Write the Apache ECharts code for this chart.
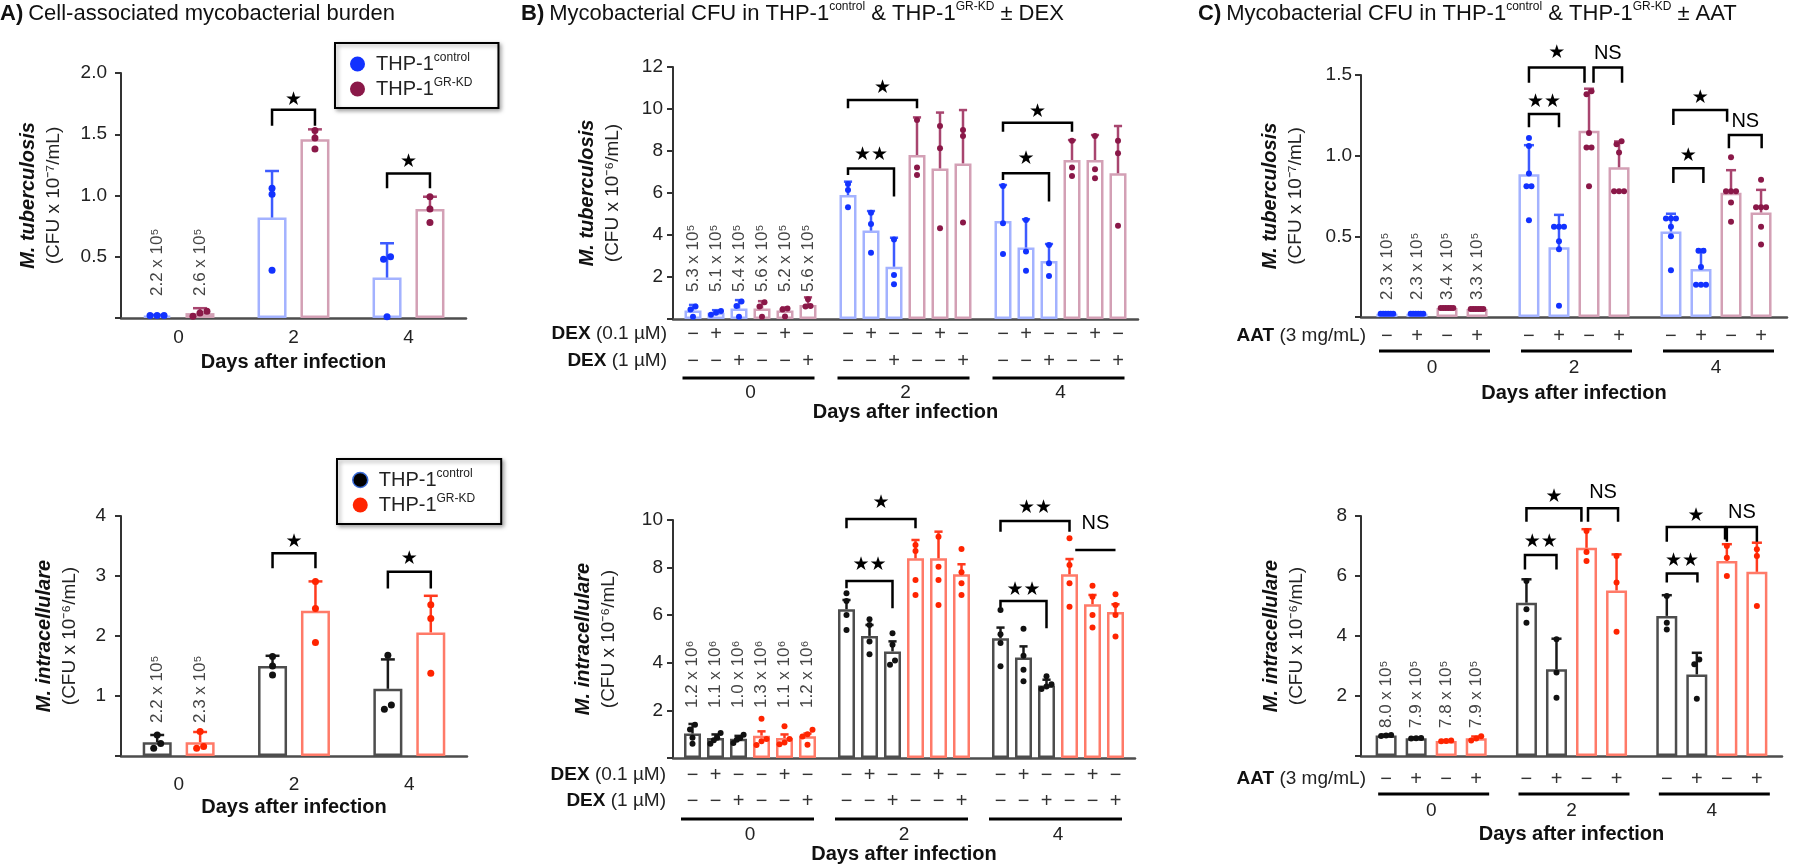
<!DOCTYPE html>
<html><head><meta charset="utf-8">
<script src="https://cdn.jsdelivr.net/npm/echarts@6/dist/echarts.min.js"></script>
<style>html,body{margin:0;padding:0;background:#fff}#c{width:1800px;height:868px}</style>
</head><body><div id="c"></div>
<script>
const FONT = "'Liberation Sans', Arial, Helvetica, sans-serif";
const days = ['0', '2', '4'];

// ---------- A top: M. tuberculosis (control, GR-KD) ----------
const aTbMean = [[0.02, 0.82, 0.33], [0.04, 1.46, 0.89]];
const aTbErr  = [[0.005, 0.38, 0.28], [0.04, 0.08, 0.10]];
const aTbPts  = [
  [[0.02, 0.02, 0.02], [1.06, 1.01, 0.39], [0.50, 0.48, 0.01]],
  [[0.04, 0.015, 0.055], [1.53, 1.47, 1.38], [0.99, 0.89, 0.78]]
];
const aTbNotes = ['2.2 x 10⁵', '2.6 x 10⁵'];
// [day, fromBar, toBar, yTop, yLeftEnd, yRightEnd, textY, text]
const aTbSig = [[1, 0, 1, 1.70, 1.57, 1.57, 1.78, '★'], [2, 0, 1, 1.18, 1.06, 1.06, 1.27, '★']];

// ---------- A bottom: M. intracellulare ----------
const aIntMean = [[0.23, 1.50, 1.12], [0.23, 2.42, 2.06]];
const aIntErr  = [[0.12, 0.17, 0.49], [0.17, 0.49, 0.61]];
const aIntPts  = [
  [[0.13, 0.21, 0.35], [1.35, 1.50, 1.66], [1.68, 0.78, 0.85]],
  [[0.13, 0.16, 0.41], [2.91, 2.46, 1.89], [2.52, 2.29, 1.38]]
];
const aIntNotes = ['2.2 x 10⁵', '2.3 x 10⁵'];
const aIntSig = [[1, 0, 1, 3.38, 3.13, 3.13, 3.57, '★'], [2, 0, 1, 3.07, 2.79, 2.79, 3.29, '★']];

// ---------- B top: M. tuberculosis ± DEX (ctrl -, 0.1, 1 ; GR -, 0.1, 1) ----------
const bTbMean = [
  [0.40, 5.90, 4.67], [0.30, 4.21, 3.40], [0.50, 2.49, 2.76],
  [0.50, 7.81, 7.57], [0.40, 7.17, 7.57], [0.67, 7.41, 6.94]
];
const bTbErr = [
  [0.27, 0.64, 1.71], [0.12, 0.93, 1.35], [0.40, 1.38, 0.81],
  [0.35, 1.79, 0.95], [0.15, 2.66, 1.19], [0.36, 2.54, 2.25]
];
const bTbPts = [
  [[0.59, 0.45, 0.11], [6.43, 6.14, 5.32], [6.33, 4.56, 3.10]],
  [[0.38, 0.30, 0.20], [5.06, 4.52, 3.16], [4.71, 3.21, 2.30]],
  [[0.83, 0.62, 0.11], [3.79, 2.10, 1.65], [3.52, 2.65, 2.05]],
  [[0.80, 0.59, 0.11], [9.48, 7.22, 6.86], [8.49, 7.22, 6.81]],
  [[0.50, 0.45, 0.12], [9.19, 8.13, 4.32], [8.71, 7.13, 6.70]],
  [[0.94, 0.62, 0.59], [9.00, 8.71, 4.60], [8.49, 7.89, 4.44]]
];
const bTbNotes = ['5.3 x 10⁵', '5.1 x 10⁵', '5.4 x 10⁵', '5.6 x 10⁵', '5.2 x 10⁵', '5.6 x 10⁵'];
const bTbSig = [
  [1, 0, 3, 10.43, 10.03, 10.03, 10.98, '★'],
  [1, 0, 2, 7.17, 6.86, 5.83, 7.81, '★★'],
  [2, 0, 3, 9.35, 8.92, 8.92, 9.87, '★'],
  [2, 0, 2, 6.94, 6.62, 5.59, 7.60, '★']
];

// ---------- B bottom: M. intracellulare ± DEX ----------
const bIntMean = [
  [1.03, 6.25, 5.03], [0.84, 5.13, 4.22], [0.81, 4.48, 3.05],
  [0.94, 8.39, 7.72], [0.84, 8.39, 6.46], [0.91, 7.72, 6.13]
];
const bIntErr = [
  [0.40, 0.39, 0.45], [0.15, 0.46, 0.47], [0.12, 0.42, 0.24],
  [0.18, 0.77, 0.64], [0.15, 1.12, 0.39], [0.12, 0.42, 0.33]
];
const bIntPts = [
  [[1.40, 1.20, 0.85, 0.60], [6.92, 6.60, 6.01, 5.38], [6.22, 5.20, 4.83, 3.85]],
  [[1.05, 0.85, 0.75, 0.60], [5.83, 5.59, 4.90, 4.36], [5.43, 4.30, 3.71, 3.22]],
  [[0.98, 0.84, 0.77, 0.63], [5.24, 4.76, 4.10, 3.92], [3.43, 3.10, 3.00, 2.90]],
  [[1.65, 0.80, 0.70, 0.55], [8.95, 8.70, 7.48, 6.85], [9.23, 8.11, 7.34, 6.36]],
  [[1.33, 0.80, 0.65, 0.58], [9.30, 8.04, 7.48, 6.43], [7.24, 6.78, 6.01, 5.48]],
  [[1.19, 1.00, 0.90, 0.56], [8.78, 7.80, 7.34, 6.85], [6.88, 6.43, 6.01, 5.10]]
];
const bIntNotes = ['1.2 x 10⁶', '1.1 x 10⁶', '1.0 x 10⁶', '1.3 x 10⁶', '1.1 x 10⁶', '1.2 x 10⁶'];
const bIntSig = [
  [1, 0, 3, 10.04, 9.65, 9.65, 10.70, '★'],
  [1, 0, 2, 7.44, 7.13, 6.29, 8.11, '★★'],
  [2, 0, 3, 9.96, 9.51, 9.51, 10.52, '★★'],
  [2, 0, 2, 6.60, 6.32, 5.45, 7.06, '★★'],
  [2, 3.25, 5, 8.74, 8.74, 8.74, 9.86, 'NS']
];
const dexRows = [
  {label: ['DEX', '(0.1 µM)'], signs: ['−', '+', '−', '−', '+', '−']},
  {label: ['DEX', '(1 µM)'],   signs: ['−', '−', '+', '−', '−', '+']}
];

// ---------- C top: M. tuberculosis ± AAT (ctrl -, +, GR -, +) ----------
const cTbMean = [[0.02, 0.885, 0.53], [0.02, 0.433, 0.297], [0.056, 1.155, 0.77], [0.05, 0.928, 0.648]];
const cTbErr  = [[0.004, 0.18, 0.11], [0.004, 0.20, 0.12], [0.006, 0.26, 0.14], [0.006, 0.16, 0.14]];
const cTbPts = [
  [[0.02, 0.02, 0.02, 0.02, 0.02, 0.02], [1.11, 1.06, 0.89, 0.81, 0.81, 0.60], [0.61, 0.61, 0.61, 0.56, 0.50, 0.29]],
  [[0.02, 0.02, 0.02, 0.02, 0.02, 0.02], [0.56, 0.56, 0.56, 0.47, 0.42, 0.07], [0.41, 0.41, 0.31, 0.20, 0.20, 0.20]],
  [[0.056, 0.056, 0.056, 0.056, 0.056, 0.056], [1.40, 1.38, 1.14, 1.05, 1.05, 0.81], [0.99, 0.78, 0.78, 0.78, 0.71, 0.59]],
  [[0.05, 0.05, 0.05, 0.05, 0.05, 0.05], [1.09, 1.07, 1.02, 0.78, 0.78, 0.78], [0.85, 0.68, 0.68, 0.68, 0.56, 0.45]]
];
const cTbNotes = ['2.3 x 10⁵', '2.3 x 10⁵', '3.4 x 10⁵', '3.3 x 10⁵'];
const cTbSig = [
  [1, 0, 1.85, 1.547, 1.452, 1.452, 1.634, '★'],
  [1, 2.15, 3.1, 1.547, 1.452, 1.452, 1.634, 'NS'],
  [1, 0, 1.0, 1.258, 1.176, 1.176, 1.335, '★★'],
  [2, 0.08, 1.87, 1.283, 1.19, 1.21, 1.356, '★'],
  [2, 1.93, 3.02, 1.128, 1.046, 1.046, 1.21, 'NS'],
  [2, 0.08, 1.08, 0.922, 0.83, 0.83, 0.998, '★']
];

// ---------- C bottom: M. intracellulare ± AAT ----------
const cIntMean = [[0.68, 5.11, 4.67], [0.59, 2.89, 2.72], [0.50, 6.94, 6.50], [0.59, 5.52, 6.14]];
const cIntErr  = [[0.03, 0.78, 0.69], [0.03, 1.02, 0.72], [0.03, 0.62, 0.56], [0.06, 1.20, 0.97]];
const cIntPts = [
  [[0.70, 0.68, 0.67], [5.83, 4.89, 4.44], [5.33, 4.44, 4.22]],
  [[0.60, 0.59, 0.58], [3.89, 2.78, 1.94], [3.22, 3.06, 1.91]],
  [[0.52, 0.50, 0.49], [7.50, 6.80, 6.50], [7.00, 6.61, 6.00]],
  [[0.66, 0.58, 0.52], [6.67, 5.78, 4.14], [6.89, 6.67, 5.00]]
];
const cIntNotes = ['8.0 x 10⁵', '7.9 x 10⁵', '7.8 x 10⁵', '7.9 x 10⁵'];
const cIntSig = [
  [1, 0, 1.83, 8.26, 7.81, 7.81, 8.63, '★'],
  [1, 2.05, 3.05, 8.26, 7.81, 7.81, 8.78, 'NS'],
  [1, -0.05, 1.0, 6.70, 6.22, 6.22, 7.14, '★★'],
  [2, 0, 1.94, 7.63, 7.14, 7.22, 8.00, '★'],
  [2, 2.0, 3.0, 7.63, 7.14, 7.14, 8.11, 'NS'],
  [2, 0, 1.02, 6.08, 5.78, 5.78, 6.50, '★★']
];
const aatRows = [{label: ['AAT', '(3 mg/mL)'], signs: ['−', '+', '−', '+']}];

// ---------- styles ----------
const TB_CTRL  = {pt: '#1232ff', err: '#3d5bff', border: '#a3b2ff'};
const TB_GR    = {pt: '#8a1848', err: '#a8456f', border: '#d3a0b5'};
const INT_CTRL = {pt: '#111111', err: '#1a1a1a', border: '#4d4d4d'};
const INT_GR   = {pt: '#ff2400', err: '#ff3a1e', border: '#ff7a68'};

const panels = [
  {key: 'aTb', mean: aTbMean, err: aTbErr, pts: aTbPts, notes: aTbNotes, sig: aTbSig, rows: null,
   colors: [TB_CTRL, TB_GR], ymax: 2, yint: 0.5, dec: 1, org: 'M. tuberculosis', unit: '10⁻⁷',
   L: {grid: [121, 73, 345, 245], bw: 29, gap: 0.48, noteOff: 22, xLabelMargin: 10, nameGap: 34, yNameGap: 54, yLabelMargin: 14, pr: 3.5, sp: 7}},
  {key: 'aInt', mean: aIntMean, err: aIntErr, pts: aIntPts, notes: aIntNotes, sig: aIntSig, rows: null,
   colors: [INT_CTRL, INT_GR], ymax: 4, yint: 1, dec: 0, org: 'M. intracellulare', unit: '10⁻⁶',
   L: {grid: [121, 516, 346, 240], bw: 29, gap: 0.48, noteOff: 33, xLabelMargin: 19, nameGap: 41, yNameGap: 38, yLabelMargin: 15, pr: 3.5, sp: 7}},
  {key: 'bTb', mean: bTbMean, err: bTbErr, pts: bTbPts, notes: bTbNotes, sig: bTbSig, rows: dexRows,
   colors: [TB_CTRL, TB_CTRL, TB_CTRL, TB_GR, TB_GR, TB_GR], ymax: 12, yint: 2, dec: 0, org: 'M. tuberculosis', unit: '10⁻⁶',
   L: {grid: [673, 67, 465, 252], bw: 17, gap: 0.353, noteOff: 27, xLabelMargin: 64, nameGap: 82, yNameGap: 47, yLabelMargin: 10, pr: 3, sp: 5,
       rowOff: [15, 42], ulOff: 59, ul: [-68, 64], rowLabelX: 667}},
  {key: 'bInt', mean: bIntMean, err: bIntErr, pts: bIntPts, notes: bIntNotes, sig: bIntSig, rows: dexRows,
   colors: [INT_CTRL, INT_CTRL, INT_CTRL, INT_GR, INT_GR, INT_GR], ymax: 10, yint: 2, dec: 0, org: 'M. intracellulare', unit: '10⁻⁶',
   L: {grid: [673, 520, 462, 238], bw: 17, gap: 0.353, noteOff: 50, xLabelMargin: 67, nameGap: 85, yNameGap: 51, yLabelMargin: 10, pr: 3, sp: 5,
       rowOff: [17, 43], ulOff: 61, ul: [-69, 64], rowLabelX: 666}},
  {key: 'cTb', mean: cTbMean, err: cTbErr, pts: cTbPts, notes: cTbNotes, sig: cTbSig, rows: aatRows,
   colors: [TB_CTRL, TB_CTRL, TB_GR, TB_GR], ymax: 1.5, yint: 0.5, dec: 1, org: 'M. tuberculosis', unit: '10⁻⁷',
   L: {grid: [1361, 75, 426, 242], bw: 21, gap: 0.43, noteOff: 17, xLabelMargin: 41, nameGap: 66, yNameGap: 52, yLabelMargin: 9, pr: 3, sp: 5,
       rowOff: [19], ulOff: 34, ul: [-53, 58], rowLabelX: 1366}},
  {key: 'cInt', mean: cIntMean, err: cIntErr, pts: cIntPts, notes: cIntNotes, sig: cIntSig, rows: aatRows,
   colors: [INT_CTRL, INT_CTRL, INT_GR, INT_GR], ymax: 8, yint: 2, dec: 0, org: 'M. intracellulare', unit: '10⁻⁶',
   L: {grid: [1361, 516, 421, 240], bw: 21, gap: 0.43, noteOff: 28, xLabelMargin: 45, nameGap: 68, yNameGap: 51, yLabelMargin: 14, pr: 3, sp: 5,
       rowOff: [23], ulOff: 38, ul: [-53, 58], rowLabelX: 1366}}
];

function barCenter(api, d, c, n, bw, gap) {
  const cx = api.coord([d, 0])[0];
  const total = n * bw + (n - 1) * gap * bw;
  return cx - total / 2 + c * bw * (1 + gap) + bw / 2;
}
// horizontal spreading of points sharing (nearly) the same value, kept inside the bar
function jitter(vals, thr, sp, maxSpan) {
  const idx = vals.map((v, i) => i).sort((a, b) => vals[a] - vals[b]);
  const off = new Array(vals.length).fill(0);
  let start = 0;
  for (let i = 1; i <= idx.length; i++) {
    if (i === idx.length || vals[idx[i]] - vals[idx[i - 1]] > thr) {
      const s = i - start;
      const step = s > 1 ? Math.min(sp, maxSpan / (s - 1)) : 0;
      for (let j = start; j < i; j++) off[idx[j]] = (j - start - (s - 1) / 2) * step;
      start = i;
    }
  }
  return off;
}

const grids = [], xAxes = [], yAxes = [], series = [], graphics = [];
panels.forEach((P, k) => {
  const L = P.L, n = P.mean.length;
  grids.push({left: L.grid[0], top: L.grid[1], width: L.grid[2], height: L.grid[3]});
  xAxes.push({type: 'category', gridIndex: k, data: days,
    axisLine: {lineStyle: {color: '#4d4d4d', width: 2.5}},
    axisTick: {alignWithLabel: true, length: 5, lineStyle: {color: '#4d4d4d', width: 2}},
    axisLabel: {margin: L.xLabelMargin, fontSize: 19, color: '#222', fontFamily: FONT},
    splitLine: {show: false},
    name: 'Days after infection', nameLocation: 'middle', nameGap: L.nameGap,
    nameTextStyle: {fontSize: 20, fontWeight: 'bold', color: '#111', fontFamily: FONT}});
  yAxes.push({type: 'value', gridIndex: k, min: 0, max: P.ymax, interval: P.yint,
    axisLine: {show: true, lineStyle: {color: '#333', width: 2}},
    axisTick: {show: true, length: 6, lineStyle: {color: '#333', width: 2}},
    axisLabel: {margin: L.yLabelMargin, fontSize: 19, color: '#222', fontFamily: FONT,
      formatter: v => v === 0 ? '' : v.toFixed(P.dec)},
    splitLine: {show: false},
    name: '{i|' + P.org + '}\n{n|(CFU x ' + P.unit + '/mL)}', nameLocation: 'middle', nameGap: L.yNameGap, nameRotate: 90,
    nameTextStyle: {rich: {
      i: {fontStyle: 'italic', fontWeight: 'bold', fontSize: 20, lineHeight: 26, color: '#111', fontFamily: FONT},
      n: {fontSize: 19, fontWeight: 'normal', lineHeight: 26, color: '#222', fontFamily: FONT}}}});

  // bars
  P.mean.forEach((m, c) => {
    series.push({type: 'bar', name: P.key + '-' + c, xAxisIndex: k, yAxisIndex: k, data: m,
      barWidth: L.bw, barGap: (L.gap * 100) + '%', z: 2, silent: true,
      itemStyle: {color: '#fff', borderColor: P.colors[c].border, borderWidth: 2.5}});
  });

  // error bars (upward)
  const errItems = [];
  P.mean.forEach((m, c) => m.forEach((v, d) => errItems.push([d, v, c, P.err[c][d]])));
  series.push({type: 'custom', xAxisIndex: k, yAxisIndex: k, z: 3, clip: false, silent: true, data: errItems,
    renderItem(params, api) {
      const d = api.value(0), v = api.value(1), c = api.value(2), e = api.value(3);
      const x = barCenter(api, d, c, n, L.bw, L.gap);
      const y0 = api.coord([d, v])[1], y1 = api.coord([d, v + e])[1];
      const hw = L.bw * 0.24, col = P.colors[c].err;
      return {type: 'group', children: [
        {type: 'line', shape: {x1: x, y1: y0, x2: x, y2: y1}, style: {stroke: col, lineWidth: 2.5}},
        {type: 'line', shape: {x1: x - hw, y1: y1, x2: x + hw, y2: y1}, style: {stroke: col, lineWidth: 2.5}}
      ]};
    }});

  // individual points
  const ptItems = [];
  P.pts.forEach((byDay, c) => byDay.forEach((vals, d) => {
    const off = jitter(vals, P.ymax * 0.022, L.sp, L.bw * 0.6);
    vals.forEach((v, j) => ptItems.push([d, v, c, off[j]]));
  }));
  series.push({type: 'custom', xAxisIndex: k, yAxisIndex: k, z: 4, clip: false, silent: true, data: ptItems,
    renderItem(params, api) {
      const d = api.value(0), v = api.value(1), c = api.value(2), o = api.value(3);
      const x = barCenter(api, d, c, n, L.bw, L.gap) + o;
      const y = api.coord([d, v])[1];
      return {type: 'circle', shape: {cx: x, cy: y, r: L.pr}, style: {fill: P.colors[c].pt}};
    }});

  // day-0 inoculum notes (rotated)
  series.push({type: 'custom', xAxisIndex: k, yAxisIndex: k, z: 4, clip: false, silent: true,
    data: P.notes.map((t, c) => [0, 0, c]),
    renderItem(params, api) {
      const c = api.value(2);
      const x = barCenter(api, 0, c, n, L.bw, L.gap);
      const y = api.coord([0, 0])[1] - L.noteOff;
      return {type: 'text', x: x, y: y, rotation: Math.PI / 2,
        style: {text: P.notes[c], fontSize: 17, fontFamily: FONT, fill: '#444', align: 'left', verticalAlign: 'middle'}};
    }});

  // significance brackets
  series.push({type: 'custom', xAxisIndex: k, yAxisIndex: k, z: 5, clip: false, silent: true,
    data: P.sig.map((s, i) => [s[0], s[3], i]),
    renderItem(params, api) {
      const s = P.sig[api.value(2)], d = s[0];
      const xa = barCenter(api, d, s[1], n, L.bw, L.gap), xb = barCenter(api, d, s[2], n, L.bw, L.gap);
      const yt = api.coord([d, s[3]])[1], yl = api.coord([d, s[4]])[1], yr = api.coord([d, s[5]])[1];
      const ty = api.coord([d, s[6]])[1];
      const isNS = s[7] === 'NS';
      return {type: 'group', children: [
        {type: 'polyline', shape: {points: [[xa, yl], [xa, yt], [xb, yt], [xb, yr]]},
         style: {stroke: '#000', lineWidth: 2.5, fill: null}},
        {type: 'text', x: (xa + xb) / 2, y: ty,
         style: {text: s[7], fill: '#000', align: 'center', verticalAlign: 'middle',
           fontSize: isNS ? 20 : 19, fontFamily: isNS ? FONT : "'DejaVu Sans', sans-serif"}}
      ]};
    }});

  if (P.rows) {
    const rowItems = [];
    for (let d = 0; d < 3; d++) for (let r = 0; r < P.rows.length; r++) for (let c = 0; c < n; c++) rowItems.push([d, 0, c, r]);
    series.push({type: 'custom', xAxisIndex: k, yAxisIndex: k, z: 5, clip: false, silent: true, data: rowItems,
      renderItem(params, api) {
        const d = api.value(0), c = api.value(2), r = api.value(3);
        const x = barCenter(api, d, c, n, L.bw, L.gap);
        const y = api.coord([d, 0])[1] + L.rowOff[r];
        return {type: 'text', x: x, y: y,
          style: {text: P.rows[r].signs[c], fontSize: 20, fontFamily: FONT, fill: '#333', align: 'center', verticalAlign: 'middle'}};
      }});
    series.push({type: 'custom', xAxisIndex: k, yAxisIndex: k, z: 5, clip: false, silent: true,
      data: days.map((t, d) => [d, 0]),
      renderItem(params, api) {
        const d = api.value(0), cx = api.coord([d, 0])[0], y = api.coord([d, 0])[1] + L.ulOff;
        return {type: 'line', shape: {x1: cx + L.ul[0], y1: y, x2: cx + L.ul[1], y2: y}, style: {stroke: '#000', lineWidth: 3}};
      }});
    P.rows.forEach((row, r) => {
      graphics.push({type: 'text', x: L.rowLabelX, y: L.grid[1] + L.grid[3] + L.rowOff[r],
        style: {text: '{b|' + row.label[0] + '} {n|' + row.label[1] + '}', align: 'right', verticalAlign: 'middle',
          fontSize: 19, fontFamily: FONT, fill: '#222',
          rich: {b: {fontWeight: 'bold', fontSize: 19, fontFamily: FONT, fill: '#111'},
                 n: {fontSize: 19, fontFamily: FONT, fill: '#222'}}}});
    });
  }
});

const titleRich = {
  b: {fontWeight: 'bold', fontSize: 22, color: '#111', fontFamily: FONT, lineHeight: 26},
  n: {fontWeight: 'normal', fontSize: 22, color: '#111', fontFamily: FONT, lineHeight: 26},
  s: {fontWeight: 'normal', fontSize: 12, color: '#111', fontFamily: FONT, lineHeight: 14, verticalAlign: 'top'}
};
const legRich = {
  m: {fontSize: 20, color: '#222', fontFamily: FONT, lineHeight: 24, padding: [0, 0, 0, 6]},
  s: {fontSize: 12, color: '#222', fontFamily: FONT, lineHeight: 14, verticalAlign: 'top'}
};
function legendFor(left, top, keyName, ctrlStyle, grStyle) {
  return {left: left, top: top, orient: 'vertical', selectedMode: false,
    data: [{name: keyName + '-0', icon: 'circle', itemStyle: ctrlStyle}, {name: keyName + '-1', icon: 'circle', itemStyle: grStyle}],
    formatter: nm => nm.endsWith('-0') ? '{m|THP-1}{s|control}' : '{m|THP-1}{s|GR-KD}',
    textStyle: {rich: legRich}, itemWidth: 15, itemHeight: 15, itemGap: 3, padding: [9, 26, 9, 15],
    borderColor: '#000', borderWidth: 2, backgroundColor: '#fff',
    shadowBlur: 4, shadowColor: 'rgba(0,0,0,0.35)', shadowOffsetX: 2, shadowOffsetY: 2};
}

const option = {
  animation: false,
  textStyle: {fontFamily: FONT},
  title: [
    {left: 0, top: 1, padding: 0, text: '{b|A)} {n|Cell-associated mycobacterial burden}', textStyle: {fontWeight: 'normal', rich: titleRich}},
    {left: 521, top: 1, padding: 0, text: '{b|B)} {n|Mycobacterial CFU in THP-1}{s|control}{n| & THP-1}{s|GR-KD}{n| ± DEX}', textStyle: {fontWeight: 'normal', rich: titleRich}},
    {left: 1198, top: 1, padding: 0, text: '{b|C)} {n|Mycobacterial CFU in THP-1}{s|control}{n| & THP-1}{s|GR-KD}{n| ± AAT}', textStyle: {fontWeight: 'normal', rich: titleRich}}
  ],
  legend: [
    legendFor(335, 43, 'aTb', {color: TB_CTRL.pt, borderWidth: 0}, {color: TB_GR.pt, borderWidth: 0}),
    legendFor(337, 459, 'aInt', {color: '#000', borderColor: '#3a6cd8', borderWidth: 1.5}, {color: INT_GR.pt, borderWidth: 0})
  ],
  grid: grids, xAxis: xAxes, yAxis: yAxes, series: series, graphic: graphics
};
const chart = echarts.init(document.getElementById('c'));
chart.setOption(option);
</script></body></html>
